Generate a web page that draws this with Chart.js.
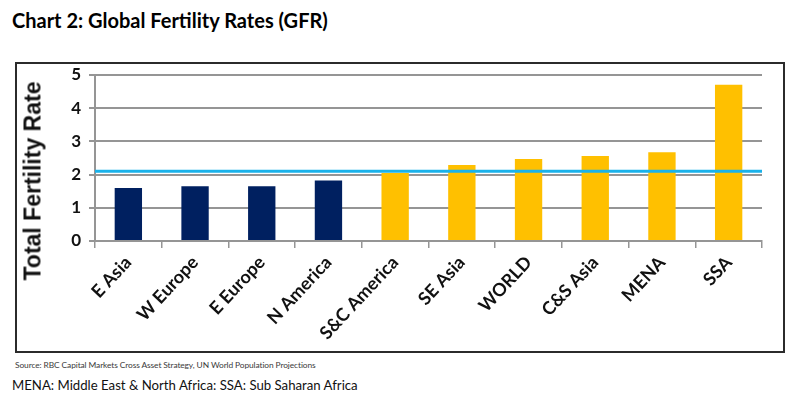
<!DOCTYPE html>
<html>
<head>
<meta charset="utf-8">
<script src="https://cdn.jsdelivr.net/npm/chart.js@4.4.1/dist/chart.umd.min.js"></script>
<style>
    html, body { margin: 0; padding: 0; background: #fff; }
    body { width: 800px; height: 408px; position: relative; overflow: hidden; font-family: Lato, sans-serif; }
    #title { position: absolute; left: 12px; top: 8px; font-size: 20px; font-weight: bold; color: #000; white-space: nowrap; }
    #frame { position: absolute; left: 15px; top: 62px; width: 766px; height: 287px; border: 2px solid #2b2b2b; }
    #chart-box { position: absolute; left: 0; top: 0; width: 766px; height: 287px; }
    #ytitle { position: absolute; left: 33px; top: 181px; transform: translate(-50%, -50%) rotate(-90deg);
              font-family: "Liberation Sans", Arial, sans-serif; font-weight: bold; font-size: 23px; color: #111; white-space: nowrap; }
    #source { position: absolute; left: 15px; top: 360px; font-size: 8.4px; color: #3a3a3a; white-space: nowrap; letter-spacing: -0.1px; }
    #note { position: absolute; left: 12px; top: 377px; font-size: 13.2px; color: #111; white-space: nowrap; }
</style>
</head>
<body>
<div id="title">Chart 2: Global Fertility Rates (GFR)</div>
<div id="frame">
    <div id="chart-box"><canvas id="gfrChart"></canvas></div>
</div>
<div id="ytitle">Total Fertility Rate</div>
<div id="source">Source: RBC Capital Markets Cross Asset Strategy, UN World Population Projections</div>
<div id="note">MENA: Middle East &amp; North Africa: SSA: Sub Saharan Africa</div>

<script>
const regions = ['E Asia', 'W Europe', 'E Europe', 'N America', 'S&C America',
                 'SE Asia', 'WORLD', 'C&S Asia', 'MENA', 'SSA'];
const fertility = [1.6, 1.65, 1.65, 1.82, 2.05, 2.29, 2.47, 2.56, 2.67, 4.71];
const belowReplacement = [true, true, true, true, false, false, false, false, false, false];
const replacementRate = 2.1;
const yTicks = [0, 1, 2, 3, 4, 5];

const NAVY = '#002060';
const GOLD = '#FFC000';
const LINE_BLUE = '#1AB2EA';
const GRID = '#959595';

// horizontal replacement-rate line across the whole plot
const replacementLine = {
    id: 'replacementLine',
    afterDatasetsDraw(chart) {
        const { ctx, chartArea, scales } = chart;
        const y = scales.y.getPixelForValue(replacementRate);
        ctx.save();
        ctx.strokeStyle = LINE_BLUE;
        ctx.lineWidth = 3;
        ctx.beginPath();
        ctx.moveTo(chartArea.left, y);
        ctx.lineTo(chartArea.right, y);
        ctx.stroke();
        ctx.restore();
    }
};

function initChart() {
    const ctx = document.getElementById('gfrChart').getContext('2d');
    new Chart(ctx, {
        type: 'bar',
        data: {
            labels: regions,
            datasets: [{
                label: 'Total Fertility Rate',
                data: fertility,
                backgroundColor: belowReplacement.map(b => b ? NAVY : GOLD),
                borderWidth: 0,
                barPercentage: 0.41,
                categoryPercentage: 1
            }]
        },
        options: {
            responsive: true,
            maintainAspectRatio: false,
            animation: false,
            layout: { padding: { top: 11, right: 21, left: 0, bottom: 0 } },
            plugins: {
                legend: { display: false },
                tooltip: { enabled: false }
            },
            scales: {
                x: {
                    offset: true,
                    afterFit: (scale) => { scale.height = 110; },
                    grid: {
                        offset: true,
                        drawOnChartArea: false,
                        drawTicks: true,
                        tickLength: 7,
                        color: GRID,
                        lineWidth: 1.5
                    },
                    border: { display: true, color: GRID, width: 2 },
                    ticks: {
                        autoSkip: false,
                        maxRotation: 47,
                        minRotation: 47,
                        padding: 4,
                        color: '#111',
                        font: { family: 'Lato', weight: 'bold', size: 18 }
                    }
                },
                y: {
                    min: 0,
                    max: 5,
                    afterFit: (scale) => {
                        scale.width = 78;
                        scale.paddingTop = 0;
                        scale.paddingBottom = 0;
                    },
                    afterBuildTicks: (scale) => { scale.ticks = yTicks.map(v => ({ value: v })); },
                    grid: {
                        color: GRID,
                        lineWidth: 2,
                        drawTicks: true,
                        tickLength: 6
                    },
                    border: { display: true, color: GRID, width: 2 },
                    ticks: {
                        padding: 8,
                        color: '#111',
                        font: { family: 'Lato', weight: 'bold', size: 17 }
                    }
                }
            }
        },
        plugins: [replacementLine]
    });
}

document.addEventListener('DOMContentLoaded', initChart);
</script>
</body>
</html>
